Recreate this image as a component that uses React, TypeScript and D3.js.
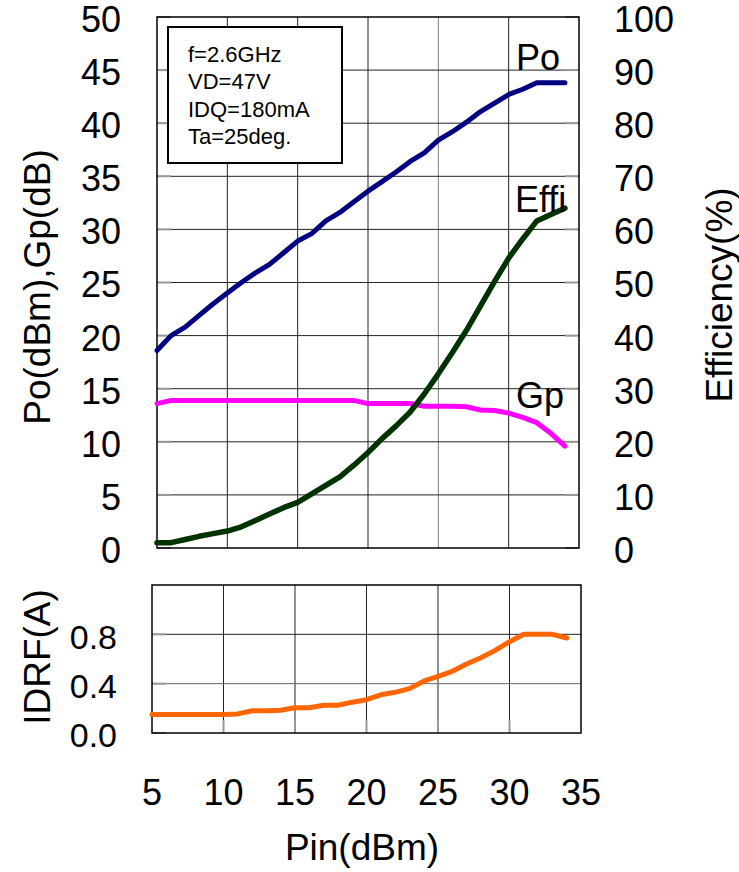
import React from "react";
import * as d3 from "d3";

// Pin (dBm) sweep
const pin = [5, 6, 7, 8, 9, 10, 11, 12, 13, 14, 15, 16, 17, 18, 19, 20, 21, 22, 23, 24, 25, 26, 27, 28, 29, 30, 31, 32, 33, 34];
// output power (dBm)
const po = [18.6, 20.0, 20.8, 21.9, 23.0, 24.0, 25.0, 25.9, 26.7, 27.8, 28.9, 29.6, 30.8, 31.6, 32.6, 33.6, 34.5, 35.4, 36.4, 37.2, 38.4, 39.2, 40.1, 41.1, 41.9, 42.7, 43.2, 43.8, 43.8, 43.8];
// gain (dB)
const gp = [13.6, 13.9, 13.9, 13.9, 13.9, 13.9, 13.9, 13.9, 13.9, 13.9, 13.9, 13.9, 13.9, 13.9, 13.9, 13.6, 13.6, 13.6, 13.6, 13.35, 13.35, 13.35, 13.3, 13.0, 12.95, 12.7, 12.3, 11.8, 10.8, 9.6];
// drain efficiency (%)
const eff = [1.0, 1.0, 1.6, 2.2, 2.7, 3.2, 4.0, 5.2, 6.4, 7.6, 8.6, 10.2, 11.8, 13.4, 15.6, 18.0, 20.6, 23.0, 25.6, 29.0, 32.8, 36.8, 41.0, 45.6, 50.2, 54.6, 58.2, 61.6, 62.8, 64.0];
// drain current (A)
const idrf = [0.15, 0.15, 0.15, 0.15, 0.15, 0.15, 0.155, 0.18, 0.18, 0.185, 0.205, 0.205, 0.225, 0.225, 0.25, 0.27, 0.31, 0.33, 0.36, 0.42, 0.46, 0.5, 0.56, 0.61, 0.67, 0.74, 0.8, 0.8, 0.8, 0.77];

const xTicks = [5, 10, 15, 20, 25, 30, 35];
const leftTicks = [0, 5, 10, 15, 20, 25, 30, 35, 40, 45, 50];
const rightTicks = [0, 10, 20, 30, 40, 50, 60, 70, 80, 90, 100];
const idTicks = [0, 0.4, 0.8];
const idGrid = [0.4, 0.8];
const conditions = ["f=2.6GHz", "VD=47V", "IDQ=180mA", "Ta=25deg."];

const FONT = "'Liberation Sans', Arial, sans-serif";

export default function App() {
  const W = 739, H = 872;
  // main panel
  const x = d3.scaleLinear().domain([5, 35]).range([157, 579]);
  const yL = d3.scaleLinear().domain([0, 50]).range([548, 17]);
  const yR = d3.scaleLinear().domain([0, 100]).range([548, 17]);
  // lower panel
  const x2 = d3.scaleLinear().domain([5, 35]).range([152, 581]);
  const y2 = d3.scaleLinear().domain([0, 1.2]).range([733, 585]);

  const lineL = (vals: number[]) =>
    d3.line<number>().x((d, i) => x(pin[i])).y((d) => yL(d))(vals) || "";
  const lineR = d3.line<number>().x((d, i) => x(pin[i])).y((d) => yR(d))(eff) || "";
  const lineI = d3.line<number>().x((d, i) => x2(pin[i])).y((d) => y2(d))(idrf) || "";

  const [x0, x1] = x.range();
  const [yb, yt] = yL.range();
  const [u0, u1] = x2.range();
  const [vb, vt] = y2.range();

  return (
    <svg width={W} height={H} style={{ position: "absolute", left: 0, top: 0, background: "#fff" }} fontFamily={FONT}>
      {/* main grid */}
      {xTicks.slice(1, -1).map((t) => (
        <line key={"mx" + t} x1={x(t)} x2={x(t)} y1={yt} y2={yb} stroke={t === 25 ? "#808080" : "#222"} strokeWidth={1} />
      ))}
      {leftTicks.slice(1, -1).map((t) => (
        <line key={"my" + t} x1={x0} x2={x1} y1={yL(t)} y2={yL(t)} stroke="#222" strokeWidth={1} />
      ))}
      {leftTicks.map((t) => (
        <g key={"tk" + t}>
          <line x1={x0} x2={x0 + 14} y1={yL(t)} y2={yL(t)} stroke="#999" strokeWidth={2} />
          <line x1={x1 - 14} x2={x1} y1={yL(t)} y2={yL(t)} stroke="#999" strokeWidth={2} />
        </g>
      ))}
      <rect x={x0} y={yt} width={x1 - x0} height={yb - yt} fill="none" stroke="#000" strokeWidth={1.5} />

      {/* conditions box */}
      <rect x={168} y={27} width={174} height={136} fill="#fff" stroke="#000" strokeWidth={2} />
      {conditions.map((c, i) => (
        <text key={c} x={188} y={62 + i * 27.3} fontSize={22} fill="#000">{c}</text>
      ))}

      {/* curves */}
      <path d={lineL(po)} fill="none" stroke="#000080" strokeWidth={5} strokeLinejoin="round" strokeLinecap="round" />
      <path d={lineL(gp)} fill="none" stroke="#ff00ff" strokeWidth={5} strokeLinejoin="round" strokeLinecap="round" />
      <path d={lineR} fill="none" stroke="#003300" strokeWidth={5.5} strokeLinejoin="round" strokeLinecap="round" />

      <text x={516} y={70} fontSize={36}>Po</text>
      <text x={515} y={212} fontSize={36}>Effi</text>
      <text x={516} y={408} fontSize={36}>Gp</text>

      {/* main axes labels */}
      {leftTicks.map((t) => (
        <text key={"ll" + t} x={121} y={yL(t) + 2} dy="0.36em" textAnchor="end" fontSize={36}>{t}</text>
      ))}
      {rightTicks.map((t) => (
        <text key={"rl" + t} x={614} y={yR(t) + 2} dy="0.36em" textAnchor="start" fontSize={36}>{t}</text>
      ))}
      <text transform="translate(50,287) rotate(-90)" textAnchor="middle" fontSize={37}>Po(dBm),Gp(dB)</text>
      <text transform="translate(732,295) rotate(-90)" textAnchor="middle" fontSize={37}>Efficiency(%)</text>

      {/* lower panel */}
      {xTicks.slice(1, -1).map((t) => (
        <g key={"lx" + t}>
          <line x1={x2(t)} x2={x2(t)} y1={vt} y2={vb} stroke="#222" strokeWidth={1} />
          <line x1={x2(t)} x2={x2(t)} y1={vb - 13} y2={vb} stroke="#999" strokeWidth={2} />
        </g>
      ))}
      {idGrid.map((t) => (
        <line key={"ly" + t} x1={u0} x2={u1} y1={y2(t)} y2={y2(t)} stroke={t === 0.4 ? "#666" : "#222"} strokeWidth={1} />
      ))}
      {idTicks.map((t) => (
        <line key={"lt" + t} x1={u0} x2={u0 + 14} y1={y2(t)} y2={y2(t)} stroke="#999" strokeWidth={2} />
      ))}
      <rect x={u0} y={vt} width={u1 - u0} height={vb - vt} fill="none" stroke="#000" strokeWidth={1.5} />
      <path d={lineI} fill="none" stroke="#ff6600" strokeWidth={5} strokeLinejoin="round" strokeLinecap="round" />

      {idTicks.map((t) => (
        <text key={"il" + t} x={117} y={y2(t) + 2} dy="0.36em" textAnchor="end" fontSize={34}>{t.toFixed(1)}</text>
      ))}
      <text transform="translate(50,657) rotate(-90)" textAnchor="middle" fontSize={37}>IDRF(A)</text>

      {xTicks.map((t) => (
        <text key={"xl" + t} x={x2(t)} y={805} textAnchor="middle" fontSize={36}>{t}</text>
      ))}
      <text x={362} y={860} textAnchor="middle" fontSize={37}>Pin(dBm)</text>
    </svg>
  );
}
